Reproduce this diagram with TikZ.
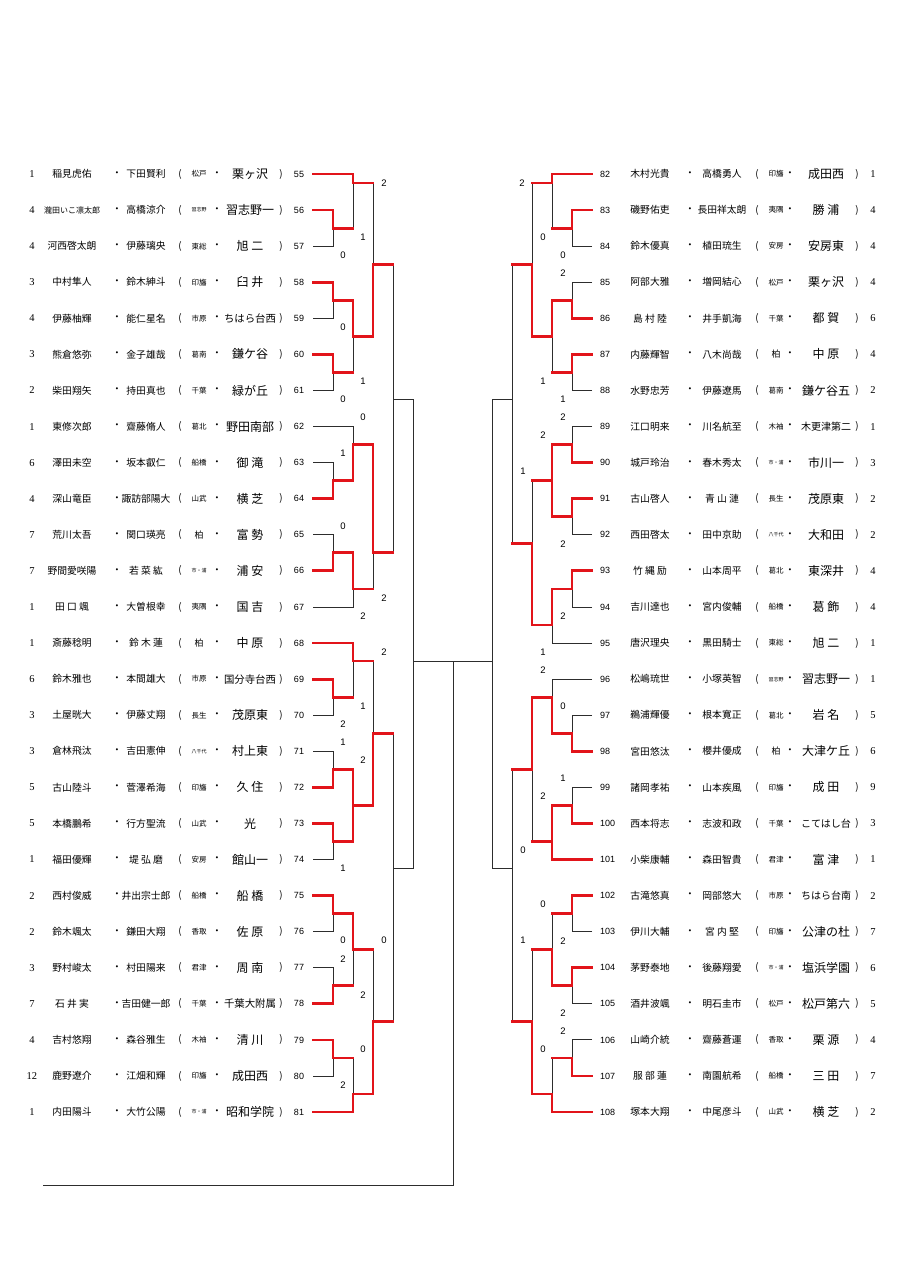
\documentclass[tikz,border=0pt]{standalone}
\usepackage{fontspec}
\setmainfont{Liberation Serif}
\newfontfamily\jpfont{Noto Sans CJK JP}
\newfontfamily\arialfont{Liberation Sans}
\usepackage{graphicx}
\usepackage{tikz}
\definecolor{draw_dark}{RGB}{45,45,45}
\definecolor{win_red}{RGB}{226,20,26}

% row position and quarter-row position (pixels, downwards)
\newcommand\rowy[1]{174+36.08*#1}
\newcommand\suby[1]{174+9.02*#1}

% shrink a text to a maximal width
\newsavebox\fitbox
\newcommand\fitw[2]{\sbox\fitbox{#2}\ifdim\wd\fitbox>#1pt\resizebox{#1pt}{!}{\usebox\fitbox}\else\usebox\fitbox\fi}

% left entry: row, seed, name, name, area, school, number
\newcommand\lentry[7]{%
  \coordinate (e#7) at (313,\rowy{#1});
  \node[seedtxt] (sd#7) at (32,\rowy{#1}) {#2};
  \node[jp] (na#7) at (72,\rowy{#1}) {\fitw{56}{#3}};
  \node[jp] (da#7) at (117,\rowy{#1}) {・};
  \node[jp] (nb#7) at (146,\rowy{#1}) {\fitw{50}{#4}};
  \node[jp] (pa#7) at (180,\rowy{#1}) {(};
  \node[area] (ar#7) at (199,\rowy{#1}) {\fitw{15}{#5}};
  \node[jp] (db#7) at (217,\rowy{#1}) {・};
  \node[school] (sc#7) at (250,\rowy{#1}) {\fitw{52}{#6}};
  \node[jp] (pb#7) at (281,\rowy{#1}) {)};
  \node[numtxt] (no#7) at (299,\rowy{#1}) {#7};
}
% right entry: row, number, name, name, area, school, seed
\newcommand\rentry[7]{%
  \coordinate (e#2) at (592,\rowy{#1});
  \node[numtxt,anchor=west] (no#2) at (600,\rowy{#1}) {#2};
  \node[jp] (na#2) at (650,\rowy{#1}) {\fitw{52}{#3}};
  \node[jp] (da#2) at (690,\rowy{#1}) {・};
  \node[jp] (nb#2) at (722,\rowy{#1}) {\fitw{60}{#4}};
  \node[jp] (pa#2) at (757,\rowy{#1}) {(};
  \node[area] (ar#2) at (776,\rowy{#1}) {\fitw{15}{#5}};
  \node[jp] (db#2) at (790,\rowy{#1}) {・};
  \node[school] (sc#2) at (826,\rowy{#1}) {\fitw{50}{#6}};
  \node[jp] (pb#2) at (857,\rowy{#1}) {)};
  \node[seedtxt] (sd#2) at (873,\rowy{#1}) {#7};
}

\begin{document}
\begin{tikzpicture}[x=1pt, y=-1pt,
    jp/.style={inner sep=0pt, font=\jpfont\fontsize{9.8}{10}\selectfont},
    area/.style={inner sep=0pt, font=\jpfont\fontsize{9}{9}\selectfont},
    school/.style={inner sep=0pt, font=\jpfont\fontsize{12}{12}\selectfont},
    seedtxt/.style={inner sep=0pt, font=\fontsize{10.5}{10}\selectfont},
    numtxt/.style={inner sep=0pt, font=\arialfont\fontsize{9}{9}\selectfont},
    score/.style={inner sep=0pt, font=\arialfont\fontsize{9.5}{10}\selectfont},
    bk/.style={line width=0.9pt, draw_dark},
    rd/.style={line width=2.8pt, win_red, line cap=rect}]
  \fill[white] (0,0) rectangle (905,1280);
  \useasboundingbox (0,0) rectangle (905,1280);

  % left block
  \lentry{0}{1}{稲見虎佑}{下田賢利}{松戸}{栗ヶ沢}{55}
  \lentry{1}{4}{瀧田いこ凛太郎}{高橋涼介}{習志野}{習志野一}{56}
  \lentry{2}{4}{河西啓太朗}{伊藤璃央}{東総}{旭 二}{57}
  \lentry{3}{3}{中村隼人}{鈴木紳斗}{印旛}{臼 井}{58}
  \lentry{4}{4}{伊藤柚輝}{能仁星名}{市原}{ちはら台西}{59}
  \lentry{5}{3}{熊倉悠弥}{金子雄哉}{葛南}{鎌ケ谷}{60}
  \lentry{6}{2}{柴田翔矢}{持田真也}{千葉}{緑が丘}{61}
  \lentry{7}{1}{東修次郎}{齋藤脩人}{葛北}{野田南部}{62}
  \lentry{8}{6}{澤田未空}{坂本叡仁}{船橋}{御 滝}{63}
  \lentry{9}{4}{深山竜臣}{諏訪部陽大}{山武}{横 芝}{64}
  \lentry{10}{7}{荒川太吾}{関口瑛亮}{柏}{富 勢}{65}
  \lentry{11}{7}{野間愛咲陽}{若 菜 紘}{市・浦}{浦 安}{66}
  \lentry{12}{1}{田 口 颯}{大曽根幸}{夷隅}{国 吉}{67}
  \lentry{13}{1}{斎藤稔明}{鈴 木 蓮}{柏}{中 原}{68}
  \lentry{14}{6}{鈴木雅也}{本間雄大}{市原}{国分寺台西}{69}
  \lentry{15}{3}{土屋晄大}{伊藤丈翔}{長生}{茂原東}{70}
  \lentry{16}{3}{倉林飛汰}{吉田憲伸}{八千代}{村上東}{71}
  \lentry{17}{5}{古山陸斗}{菅澤希海}{印旛}{久 住}{72}
  \lentry{18}{5}{本橋鵬希}{行方聖流}{山武}{光}{73}
  \lentry{19}{1}{福田優輝}{堤 弘 磨}{安房}{館山一}{74}
  \lentry{20}{2}{西村俊威}{井出宗士郎}{船橋}{船 橋}{75}
  \lentry{21}{2}{鈴木颯太}{鎌田大翔}{香取}{佐 原}{76}
  \lentry{22}{3}{野村峻太}{村田陽来}{君津}{周 南}{77}
  \lentry{23}{7}{石 井 実}{吉田健一郎}{千葉}{千葉大附属}{78}
  \lentry{24}{4}{吉村悠翔}{森谷雅生}{木袖}{清 川}{79}
  \lentry{25}{12}{鹿野遼介}{江畑和輝}{印旛}{成田西}{80}
  \lentry{26}{1}{内田陽斗}{大竹公陽}{市・浦}{昭和学院}{81}

  % right block
  \rentry{0}{82}{木村光貴}{高橋勇人}{印旛}{成田西}{1}
  \rentry{1}{83}{磯野佑吏}{長田祥太朗}{夷隅}{勝 浦}{4}
  \rentry{2}{84}{鈴木優真}{植田琉生}{安房}{安房東}{4}
  \rentry{3}{85}{阿部大雅}{増岡結心}{松戸}{栗ヶ沢}{4}
  \rentry{4}{86}{島 村 陸}{井手凱海}{千葉}{都 賀}{6}
  \rentry{5}{87}{内藤輝智}{八木尚哉}{柏}{中 原}{4}
  \rentry{6}{88}{水野忠芳}{伊藤遼馬}{葛南}{鎌ケ谷五}{2}
  \rentry{7}{89}{江口明来}{川名航至}{木袖}{木更津第二}{1}
  \rentry{8}{90}{城戸玲治}{春木秀太}{市・浦}{市川一}{3}
  \rentry{9}{91}{古山啓人}{青 山 漣}{長生}{茂原東}{2}
  \rentry{10}{92}{西田啓太}{田中京助}{八千代}{大和田}{2}
  \rentry{11}{93}{竹 縄 励}{山本周平}{葛北}{東深井}{4}
  \rentry{12}{94}{吉川達也}{宮内俊輔}{船橋}{葛 飾}{4}
  \rentry{13}{95}{唐沢理央}{黒田騎士}{東総}{旭 二}{1}
  \rentry{14}{96}{松嶋琉世}{小塚英智}{習志野}{習志野一}{1}
  \rentry{15}{97}{鵜浦輝優}{根本寛正}{葛北}{岩 名}{5}
  \rentry{16}{98}{宮田悠汰}{櫻井優成}{柏}{大津ケ丘}{6}
  \rentry{17}{99}{諸岡孝祐}{山本疾風}{印旛}{成 田}{9}
  \rentry{18}{100}{西本将志}{志波和政}{千葉}{こてはし台}{3}
  \rentry{19}{101}{小柴康輔}{森田智貴}{君津}{富 津}{1}
  \rentry{20}{102}{古滝悠真}{岡部悠大}{市原}{ちはら台南}{2}
  \rentry{21}{103}{伊川大輔}{宮 内 堅}{印旛}{公津の杜}{7}
  \rentry{22}{104}{茅野泰地}{後藤翔愛}{市・浦}{塩浜学園}{6}
  \rentry{23}{105}{酒井波颯}{明石圭市}{松戸}{松戸第六}{5}
  \rentry{24}{106}{山崎介統}{齋藤蒼運}{香取}{栗 源}{4}
  \rentry{25}{107}{服 部 蓮}{南園航希}{船橋}{三 田}{7}
  \rentry{26}{108}{塚本大翔}{中尾彦斗}{山武}{横 芝}{2}

  % match points, left half
  \coordinate (lA) at (333,\suby{6});   \coordinate (lB) at (353,\suby{1});
  \coordinate (lC) at (333,\suby{14});  \coordinate (lD) at (333,\suby{22});
  \coordinate (lE) at (353,\suby{18});  \coordinate (lF) at (373,\suby{10});
  \coordinate (lG) at (333,\suby{34});  \coordinate (lH) at (353,\suby{30});
  \coordinate (lI) at (333,\suby{42});  \coordinate (lJ) at (353,\suby{46});
  \coordinate (lK) at (373,\suby{42});  \coordinate (lL) at (393,\suby{25});
  \coordinate (lM) at (333,\suby{58});  \coordinate (lN) at (353,\suby{54});
  \coordinate (lO) at (333,\suby{66});  \coordinate (lP) at (333,\suby{74});
  \coordinate (lQ) at (353,\suby{70});  \coordinate (lR) at (373,\suby{62});
  \coordinate (lS) at (333,\suby{82});  \coordinate (lT) at (333,\suby{90});
  \coordinate (lU) at (353,\suby{86});  \coordinate (lV) at (333,\suby{98});
  \coordinate (lW) at (353,\suby{102}); \coordinate (lX) at (373,\suby{94});
  \coordinate (lY) at (393,\suby{77});  \coordinate (lZ) at (413,\suby{54});
  % match points, right half
  \coordinate (rA) at (572,\suby{6});   \coordinate (rB) at (552,\suby{1});
  \coordinate (rC) at (572,\suby{14});  \coordinate (rD) at (572,\suby{22});
  \coordinate (rE) at (552,\suby{18});  \coordinate (rF) at (532,\suby{10});
  \coordinate (rG) at (572,\suby{30});  \coordinate (rH) at (572,\suby{38});
  \coordinate (rI) at (552,\suby{34});  \coordinate (rJ) at (572,\suby{46});
  \coordinate (rK) at (552,\suby{50});  \coordinate (rL) at (532,\suby{41});
  \coordinate (rM) at (512,\suby{25});  \coordinate (rN) at (572,\suby{62});
  \coordinate (rO) at (552,\suby{58});  \coordinate (rP) at (572,\suby{70});
  \coordinate (rQ) at (552,\suby{74});  \coordinate (rR) at (532,\suby{66});
  \coordinate (rS) at (572,\suby{82});  \coordinate (rT) at (572,\suby{90});
  \coordinate (rU) at (552,\suby{86});  \coordinate (rV) at (572,\suby{98});
  \coordinate (rW) at (552,\suby{102}); \coordinate (rX) at (532,\suby{94});
  \coordinate (rY) at (512,\suby{77});  \coordinate (rZ) at (492,\suby{54});
  % final
  \coordinate (fin) at (453,\suby{54});
  \coordinate (champ) at (43,1185);

  % thin lines
  \draw[bk] (e55) -| (lB) (e56) -| (lA) (e57) -| (lA) (e58) -| (lC) (e59) -| (lC)
    (e60) -| (lD) (e61) -| (lD) (e62) -| (lH) (e63) -| (lG) (e64) -| (lG)
    (e65) -| (lI) (e66) -| (lI) (e67) -| (lJ) (e68) -| (lN) (e69) -| (lM)
    (e70) -| (lM) (e71) -| (lO) (e72) -| (lO) (e73) -| (lP) (e74) -| (lP)
    (e75) -| (lS) (e76) -| (lS) (e77) -| (lT) (e78) -| (lT) (e79) -| (lV)
    (e80) -| (lV) (e81) -| (lW);
  \draw[bk] (lA) -| (lB) (lB) -| (lF) (lC) -| (lE) (lD) -| (lE) (lE) -| (lF)
    (lF) -| (lL) (lG) -| (lH) (lH) -| (lK) (lI) -| (lJ) (lJ) -| (lK)
    (lK) -| (lL) (lL) -| (lZ) (lM) -| (lN) (lN) -| (lR) (lO) -| (lQ)
    (lP) -| (lQ) (lQ) -| (lR) (lR) -| (lY) (lS) -| (lU) (lT) -| (lU)
    (lU) -| (lX) (lV) -| (lW) (lW) -| (lX) (lX) -| (lY) (lY) -| (lZ);
  \draw[bk] (e82) -| (rB) (e83) -| (rA) (e84) -| (rA) (e85) -| (rC) (e86) -| (rC)
    (e87) -| (rD) (e88) -| (rD) (e89) -| (rG) (e90) -| (rG) (e91) -| (rH)
    (e92) -| (rH) (e93) -| (rJ) (e94) -| (rJ) (e95) -| (rK) (e96) -| (rO)
    (e97) -| (rN) (e98) -| (rN) (e99) -| (rP) (e100) -| (rP) (e101) -| (rQ)
    (e102) -| (rS) (e103) -| (rS) (e104) -| (rT) (e105) -| (rT) (e106) -| (rV)
    (e107) -| (rV) (e108) -| (rW);
  \draw[bk] (rA) -| (rB) (rB) -| (rF) (rC) -| (rE) (rD) -| (rE) (rE) -| (rF)
    (rF) -| (rM) (rG) -| (rI) (rH) -| (rI) (rI) -| (rL) (rJ) -| (rK)
    (rK) -| (rL) (rL) -| (rM) (rM) -| (rZ) (rN) -| (rO) (rO) -| (rR)
    (rP) -| (rQ) (rQ) -| (rR) (rR) -| (rY) (rS) -| (rU) (rT) -| (rU)
    (rU) -| (rX) (rV) -| (rW) (rW) -| (rX) (rX) -| (rY) (rY) -| (rZ);
  \draw[bk] (lZ) -- (rZ) (fin) |- (champ);

  % winners in red
  \draw[rd] (e55) -| (lB) (e56) -| (lA) (e58) -| (lC) (e60) -| (lD) (e64) -| (lG)
    (e66) -| (lI) (e68) -| (lN) (e69) -| (lM) (e72) -| (lO) (e73) -| (lP)
    (e75) -| (lS) (e78) -| (lT) (e79) -| (lV) (e81) -| (lW)
    (lC) -| (lE) (lE) -| (lF) (lG) -| (lH) (lH) -| (lK) (lI) -| (lJ)
    (lO) -| (lQ) (lP) -| (lQ) (lQ) -| (lR) (lS) -| (lU) (lW) -| (lX);
  \draw[rd] (lA) -- (lA -| lB) (lB) -- (lB -| lF) (lD) -- (lD -| lE)
    (lF) -- (lF -| lL) (lJ) -- (lJ -| lK) (lK) -- (lK -| lL) (lM) -- (lM -| lN)
    (lN) -- (lN -| lR) (lR) -- (lR -| lY) (lT) -- (lT -| lU)
    (lU) -- (lU -| lX) (lV) -- (lV -| lW) (lX) -- (lX -| lY);
  \draw[rd] (e82) -| (rB) (e83) -| (rA) (e86) -| (rC) (e87) -| (rD) (e90) -| (rG)
    (e91) -| (rH) (e93) -| (rJ) (e98) -| (rN) (e100) -| (rP) (e101) -| (rQ)
    (e102) -| (rS) (e104) -| (rT) (e107) -| (rV) (e108) -| (rW)
    (rC) -| (rE) (rE) -| (rF) (rG) -| (rI) (rH) -| (rI) (rJ) -| (rK) (rK) -| (rL)
    (rN) -| (rO) (rO) -| (rR) (rP) -| (rQ) (rT) -| (rU) (rW) -| (rX);
  \draw[rd] (rA) -- (rA -| rB) (rB) -- (rB -| rF) (rD) -- (rD -| rE)
    (rF) -- (rF -| rM) (rI) -- (rI -| rL) (rL) -- (rL -| rM)
    (rQ) -- (rQ -| rR) (rR) -- (rR -| rY) (rS) -- (rS -| rU)
    (rU) -- (rU -| rX) (rV) -- (rV -| rW) (rX) -- (rX -| rY);

  % scores, left
  \node[score] (sA) at (343,\suby{9}) {0};   \node[score] (sB) at (363,\suby{7}) {1};
  \node[score] (sC) at (343,\suby{17}) {0};  \node[score] (sD) at (343,\suby{25}) {0};
  \node[score] (sE) at (363,\suby{23}) {1};  \node[score] (sF) at (384,\suby{1}) {2};
  \node[score] (sG) at (343,\suby{31}) {1};  \node[score] (sH) at (363,\suby{27}) {0};
  \node[score] (sI) at (343,\suby{39}) {0};  \node[score] (sJ) at (363,\suby{49}) {2};
  \node[score] (sK) at (384,\suby{47}) {2};  \node[score] (sM) at (343,\suby{61}) {2};
  \node[score] (sN) at (363,\suby{59}) {1};  \node[score] (sO) at (343,\suby{63}) {1};
  \node[score] (sP) at (343,\suby{77}) {1};  \node[score] (sQ) at (363,\suby{65}) {2};
  \node[score] (sR) at (384,\suby{53}) {2};  \node[score] (sS) at (343,\suby{85}) {0};
  \node[score] (sT) at (343,\suby{87}) {2};  \node[score] (sU) at (363,\suby{91}) {2};
  \node[score] (sV) at (343,\suby{101}) {2}; \node[score] (sW) at (363,\suby{97}) {0};
  \node[score] (sX) at (384,\suby{85}) {0};
  % scores, right
  \node[score] (tA) at (563,\suby{9}) {0};   \node[score] (tB) at (543,\suby{7}) {0};
  \node[score] (tC) at (563,\suby{11}) {2};  \node[score] (tD) at (563,\suby{25}) {1};
  \node[score] (tE) at (543,\suby{23}) {1};  \node[score] (tF) at (522,\suby{1}) {2};
  \node[score] (tG) at (563,\suby{27}) {2};  \node[score] (tH) at (563,\suby{41}) {2};
  \node[score] (tI) at (543,\suby{29}) {2};  \node[score] (tJ) at (563,\suby{49}) {2};
  \node[score] (tK) at (543,\suby{53}) {1};  \node[score] (tL) at (523,\suby{33}) {1};
  \node[score] (tN) at (563,\suby{59}) {0};  \node[score] (tO) at (543,\suby{55}) {2};
  \node[score] (tP) at (563,\suby{67}) {1};  \node[score] (tQ) at (543,\suby{69}) {2};
  \node[score] (tR) at (523,\suby{75}) {0};  \node[score] (tS) at (563,\suby{85}) {2};
  \node[score] (tT) at (563,\suby{93}) {2};  \node[score] (tU) at (543,\suby{81}) {0};
  \node[score] (tV) at (563,\suby{95}) {2};  \node[score] (tW) at (543,\suby{97}) {0};
  \node[score] (tX) at (523,\suby{85}) {1};
\end{tikzpicture}
\end{document}
